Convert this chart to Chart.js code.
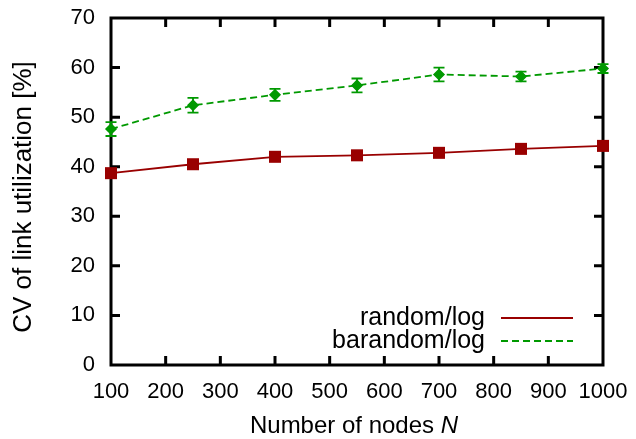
<!DOCTYPE html>
<html>
<head>
<meta charset="utf-8">
<script src="https://cdn.jsdelivr.net/npm/chart.js@4"></script>
<style>
    html, body { margin: 0; padding: 0; background: #fff; }
    #wrap { width: 636px; height: 439px; }
</style>
</head>
<body>
<div id="wrap"><canvas id="cv" width="636" height="439"></canvas></div>
<script>
// Data
const nodes = [100, 250, 400, 550, 700, 850, 1000];
const randomLog = [38.7, 40.5, 42.0, 42.3, 42.8, 43.6, 44.2];
const barandomLog = [47.6, 52.4, 54.5, 56.4, 58.6, 58.2, 59.8];
const barandomErr = [1.4, 1.5, 1.2, 1.4, 1.4, 1.0, 0.9];

// Tick labels
const xTicks = [100, 200, 300, 400, 500, 600, 700, 800, 900, 1000];
const yTicks = [0, 10, 20, 30, 40, 50, 60, 70];

const FONT = "'Liberation Sans', Arial, Helvetica, sans-serif";

// Frame with inward ticks on all four sides (gnuplot style)
function drawFrame(chart) {
    const { ctx, chartArea: a, scales: { x, y } } = chart;
    const len = 9;
    ctx.save();
    ctx.setLineDash([]);
    ctx.strokeStyle = '#000000';
    ctx.lineWidth = 3;
    ctx.beginPath();
    xTicks.forEach(v => {
        const px = x.getPixelForValue(v);
        ctx.moveTo(px, a.bottom); ctx.lineTo(px, a.bottom - len);
        ctx.moveTo(px, a.top); ctx.lineTo(px, a.top + len);
    });
    yTicks.forEach(v => {
        const py = y.getPixelForValue(v);
        ctx.moveTo(a.left, py); ctx.lineTo(a.left + len, py);
        ctx.moveTo(a.right, py); ctx.lineTo(a.right - len, py);
    });
    ctx.moveTo(a.left, a.top);
    ctx.lineTo(a.right, a.top);
    ctx.lineTo(a.right, a.bottom);
    ctx.lineTo(a.left, a.bottom);
    ctx.closePath();
    ctx.stroke();
    ctx.restore();
}

const frameTicks = {
    id: 'frameTicks',
    beforeDatasetsDraw(chart) { drawFrame(chart); }
};

// Vertical error bars with caps
const errorBars = {
    id: 'errorBars',
    beforeDatasetsDraw(chart) {
        const { ctx, scales: { y } } = chart;
        chart.data.datasets.forEach((ds, i) => {
            if (!ds.errors) return;
            const meta = chart.getDatasetMeta(i);
            ctx.save();
            ctx.strokeStyle = ds.borderColor;
            ctx.lineWidth = 1.8;
            ctx.beginPath();
            meta.data.forEach((pt, j) => {
                const v = ds.data[j].y;
                const e = ds.errors[j];
                const y1 = y.getPixelForValue(v + e);
                const y2 = y.getPixelForValue(v - e);
                const cap = 5.5;
                ctx.moveTo(pt.x, y1); ctx.lineTo(pt.x, y2);
                ctx.moveTo(pt.x - cap, y1); ctx.lineTo(pt.x + cap, y1);
                ctx.moveTo(pt.x - cap, y2); ctx.lineTo(pt.x + cap, y2);
            });
            ctx.stroke();
            ctx.restore();
        });
    }
};

// Legend inside the plot, text right-aligned with the line sample on its right
const innerLegend = {
    id: 'innerLegend',
    afterDraw(chart) {
        const { ctx } = chart;
        const textRight = 485, lineFrom = 501, lineTo = 573;
        const rows = [318, 341];
        ctx.save();
        ctx.font = '25px ' + FONT;
        ctx.textAlign = 'right';
        ctx.textBaseline = 'middle';
        chart.data.datasets.forEach((ds, i) => {
            const yy = rows[i];
            ctx.fillStyle = '#000';
            ctx.fillText(ds.label, textRight, yy);
            ctx.strokeStyle = ds.borderColor;
            ctx.lineWidth = ds.borderWidth;
            ctx.setLineDash(ds.borderDash || []);
            ctx.beginPath();
            ctx.moveTo(lineFrom, yy);
            ctx.lineTo(lineTo, yy);
            ctx.stroke();
        });
        ctx.restore();
    }
};

// Axis titles (x title has an italic N)
const axisTitles = {
    id: 'axisTitles',
    afterDraw(chart) {
        const { ctx, chartArea: a } = chart;
        const plain = 'Number of nodes ';
        const ital = 'N';
        ctx.save();
        ctx.fillStyle = '#000';
        ctx.textBaseline = 'middle';
        ctx.textAlign = 'left';
        ctx.font = '24px ' + FONT;
        const w1 = ctx.measureText(plain).width;
        ctx.font = 'italic 24px ' + FONT;
        const w2 = ctx.measureText(ital).width;
        const x0 = (a.left + a.right) / 2 - (w1 + w2) / 2 - 3;
        const yy = 426;
        ctx.font = '24px ' + FONT;
        ctx.fillText(plain, x0, yy);
        ctx.font = 'italic 24px ' + FONT;
        ctx.fillText(ital, x0 + w1, yy);

        // rotated y title
        ctx.translate(24, 197);
        ctx.rotate(-Math.PI / 2);
        ctx.textAlign = 'center';
        ctx.font = '26px ' + FONT;
        ctx.fillText('CV of link utilization [%]', 0, 0);
        ctx.restore();
    }
};

new Chart(document.getElementById('cv'), {
    type: 'line',
    data: {
        datasets: [{
            label: 'random/log',
            data: nodes.map((n, i) => ({ x: n, y: randomLog[i] })),
            borderColor: '#990000',
            backgroundColor: '#990000',
            borderWidth: 1.8,
            pointStyle: 'rect',
            pointRadius: 8.5,
            pointBorderWidth: 0,
            fill: false,
            tension: 0,
            clip: false
        }, {
            label: 'barandom/log',
            data: nodes.map((n, i) => ({ x: n, y: barandomLog[i] })),
            errors: barandomErr,
            borderColor: '#009900',
            backgroundColor: '#009900',
            borderWidth: 1.8,
            borderDash: [7, 4],
            pointStyle: 'rectRot',
            pointRadius: 5,
            pointBorderWidth: 1.5,
            fill: false,
            tension: 0,
            clip: false
        }]
    },
    options: {
        responsive: false,
        animation: false,
        devicePixelRatio: 1,
        layout: { padding: { top: 18, right: 33, left: 0, bottom: 0 } },
        plugins: {
            legend: { display: false },
            tooltip: { enabled: false }
        },
        scales: {
            x: {
                type: 'linear',
                min: 100,
                max: 1000,
                afterBuildTicks: s => { s.ticks = xTicks.map(v => ({ value: v })); },
                afterFit: s => { s.height = 74; s.paddingLeft = 0; s.paddingRight = 0; },
                grid: { display: false, drawTicks: false },
                border: { display: false },
                ticks: {
                    color: '#000',
                    font: { family: FONT, size: 22 },
                    padding: 14,
                    maxRotation: 0,
                    autoSkip: false,
                    callback: v => String(v)
                }
            },
            y: {
                type: 'linear',
                min: 0,
                max: 70,
                afterBuildTicks: s => { s.ticks = yTicks.map(v => ({ value: v })); },
                afterFit: s => { s.width = 111; s.paddingTop = 0; s.paddingBottom = 0; },
                grid: { display: false, drawTicks: false },
                border: { display: false },
                ticks: {
                    color: '#000',
                    font: { family: FONT, size: 22 },
                    padding: 16,
                    callback: v => String(v)
                }
            }
        }
    },
    plugins: [frameTicks, errorBars, innerLegend, axisTitles]
});
</script>
</body>
</html>
